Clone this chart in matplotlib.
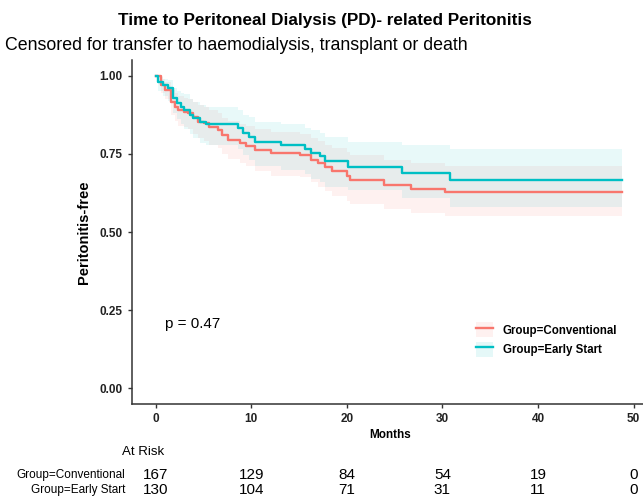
import matplotlib
matplotlib.use("Agg")
import matplotlib.pyplot as plt
from matplotlib.lines import Line2D
from matplotlib.patches import Patch
from matplotlib.legend_handler import HandlerTuple

plt.rcParams['font.family'] = ['Liberation Sans', 'DejaVu Sans']

RED = "#F8766D"
TEAL = "#00BFC4"

# Conventional group: step times (months), survival, CI
conv_t = [0, 0.6, 0.94, 1.6, 2.0, 2.3, 3.0, 3.4, 3.9, 4.4, 5.1, 5.6, 6.5, 6.9, 7.6,
          8.8, 9.5, 10.4, 12.1, 15.1, 16.3, 17.0, 17.7, 18.4, 20.0, 20.3, 23.9, 26.7, 30.3]
conv_s = [1.0, 0.970, 0.954, 0.917, 0.901, 0.890, 0.885, 0.880, 0.869, 0.853, 0.848, 0.837,
          0.827, 0.811, 0.795, 0.786, 0.776, 0.763, 0.752, 0.745, 0.731, 0.720, 0.707, 0.694,
          0.678, 0.665, 0.651, 0.637, 0.628]
conv_lo = [1.0, 0.945, 0.925, 0.875, 0.855, 0.84, 0.835, 0.83, 0.815, 0.80, 0.79, 0.78,
           0.77, 0.75, 0.735, 0.72, 0.71, 0.695, 0.68, 0.675, 0.66, 0.645, 0.63, 0.615,
           0.60, 0.59, 0.575, 0.56, 0.552]
conv_hi = [1.0, 0.99, 0.98, 0.955, 0.945, 0.935, 0.93, 0.925, 0.915, 0.905, 0.90, 0.89,
           0.88, 0.865, 0.855, 0.845, 0.84, 0.83, 0.82, 0.815, 0.80, 0.79, 0.78, 0.77,
           0.755, 0.745, 0.73, 0.72, 0.712]

# Early start group
early_t = [0, 0.25, 0.77, 1.3, 1.8, 2.2, 2.7, 3.0, 3.6, 3.9, 4.6, 5.3, 8.6, 9.1, 9.8,
           10.4, 13.1, 15.6, 16.3, 17.2, 17.7, 20.1, 25.8, 30.75]
early_s = [1.0, 0.981, 0.970, 0.960, 0.928, 0.912, 0.901, 0.890, 0.875, 0.864, 0.853, 0.846,
           0.832, 0.816, 0.805, 0.787, 0.779, 0.765, 0.754, 0.742, 0.726, 0.708, 0.688, 0.667]
early_lo = [1.0, 0.95, 0.935, 0.92, 0.88, 0.86, 0.845, 0.83, 0.815, 0.80, 0.785, 0.78,
            0.765, 0.745, 0.73, 0.71, 0.70, 0.685, 0.67, 0.66, 0.645, 0.635, 0.61, 0.58]
early_hi = [1.0, 0.995, 0.99, 0.985, 0.96, 0.95, 0.945, 0.94, 0.925, 0.915, 0.905, 0.90,
            0.89, 0.875, 0.869, 0.853, 0.845, 0.833, 0.825, 0.818, 0.805, 0.789, 0.779, 0.765]

t_end = 48.8

risk_times = [0, 10, 20, 30, 40, 50]
risk_conv = [167, 129, 84, 54, 19, 0]
risk_early = [130, 104, 71, 31, 11, 0]

fig = plt.figure(figsize=(6.43, 4.97), dpi=100)
ax = fig.add_axes([0.2048, 0.1871, 0.803, 0.692])


def draw(t, s, lo, hi, color, alpha):
    tt = t + [t_end]
    ax.fill_between(tt, lo + [lo[-1]], hi + [hi[-1]], step='post',
                    color=color, alpha=alpha, linewidth=0)
    ax.step(tt, s + [s[-1]], where='post', color=color, linewidth=1.7)


draw(conv_t, conv_s, conv_lo, conv_hi, RED, 0.1)
draw(early_t, early_s, early_lo, early_hi, TEAL, 0.09)

ax.set_xlim(-2.5, 51.5)
ax.set_ylim(-0.05, 1.05)
ax.set_xticks([0, 10, 20, 30, 40, 50])
ax.set_yticks([0, 0.25, 0.5, 0.75, 1.0])
ax.set_yticklabels(["0.00", "0.25", "0.50", "0.75", "1.00"])
for sp in ["top", "right"]:
    ax.spines[sp].set_visible(False)
for sp in ["left", "bottom"]:
    ax.spines[sp].set_color("#333333")
    ax.spines[sp].set_linewidth(1.1)
ax.tick_params(colors="#333333", length=3, width=1, labelsize=8.5)
for lbl in ax.get_xticklabels() + ax.get_yticklabels():
    lbl.set_fontweight("bold")
    lbl.set_color("#222222")

ax.set_xlabel("Months", fontsize=8.5, fontweight="bold", labelpad=3)
ax.set_ylabel("Peritonitis-free", fontsize=10.5, fontweight="bold", labelpad=6)

ax.text(1.0, 0.205, "p = 0.47", fontsize=11, va="center", ha="left")

h_conv = (Patch(facecolor=RED, alpha=0.1, edgecolor="none"), Line2D([], [], color=RED, lw=1.7))
h_early = (Patch(facecolor=TEAL, alpha=0.1, edgecolor="none"), Line2D([], [], color=TEAL, lw=1.7))
leg = fig.legend([h_conv, h_early], ["Group=Conventional", "Group=Early Start"],
                 handler_map={tuple: HandlerTuple(ndivide=1)},
                 loc="upper left", bbox_to_anchor=(466 / 643, 1 - 312 / 497),
                 frameon=False, prop={"size": 8.3, "weight": "bold"},
                 handlelength=1.4, handleheight=1.6, labelspacing=0.4, handletextpad=0.9)

fig.text(0.505, 0.958, "Time to Peritoneal Dialysis (PD)- related Peritonitis",
         fontsize=12.3, fontweight="bold", ha="center", va="center")
fig.text(5 / 643, 1 - 46 / 497, "Censored for transfer to haemodialysis, transplant or death",
         fontsize=12.8, ha="left", va="center")

# at-risk table
narrow = ['Liberation Sans Narrow', 'Liberation Sans']
fig.text(122 / 643, 1 - 452 / 497, "At Risk", fontsize=9.5, family=narrow,
         ha="left", va="center")
row_y = [1 - 475 / 497, 1 - 490 / 497]
for lab, vals, yy in [("Group=Conventional", risk_conv, row_y[0]),
                      ("Group=Early Start", risk_early, row_y[1])]:
    fig.text(125 / 643, yy, lab, fontsize=8.5, family=narrow, ha="right", va="center")
    for t, v in zip(risk_times, vals):
        xd = ax.transData.transform((t, 0))[0]
        xf = fig.transFigure.inverted().transform((xd, 0))[0]
        fig.text(xf, yy, str(v), fontsize=11, family=narrow, ha="center", va="center")

fig.savefig("out.png", dpi=100)
